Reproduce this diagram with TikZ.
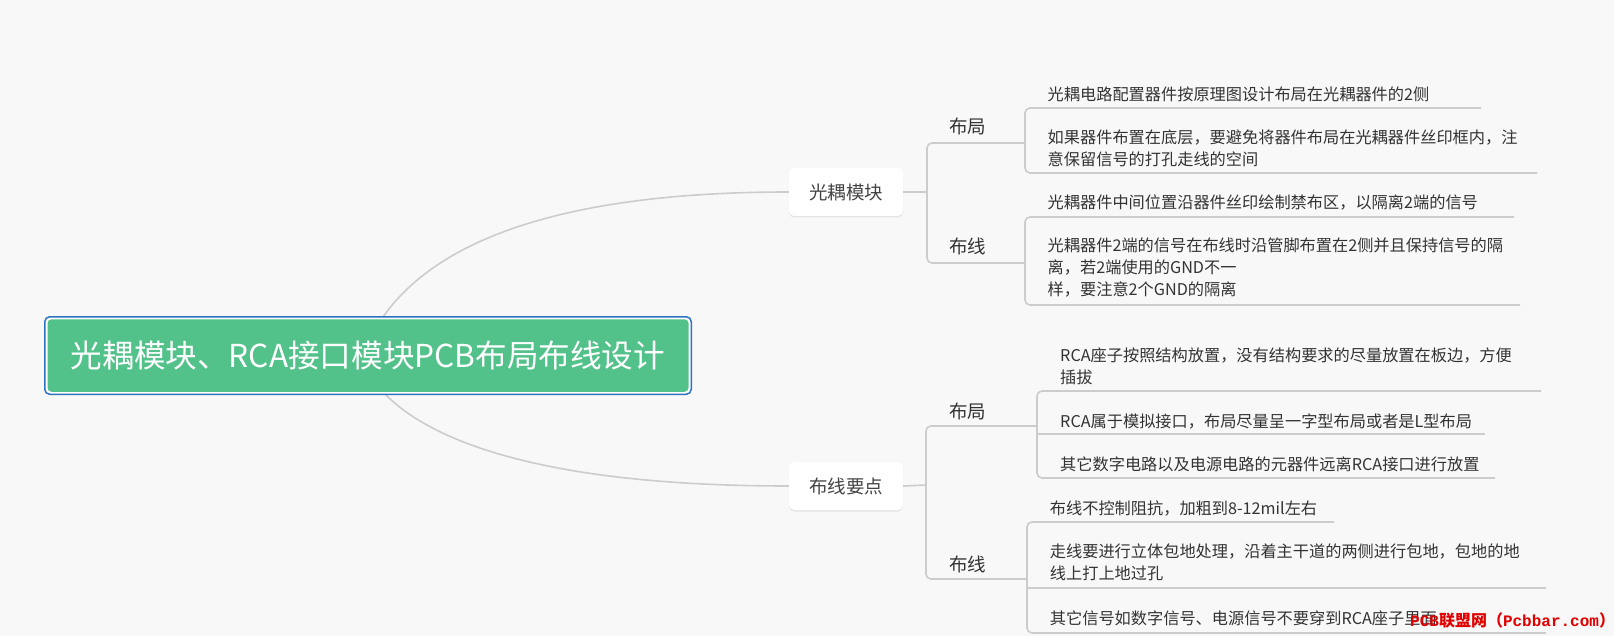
\documentclass[tikz,border=0pt]{standalone}
\usepackage{fontspec}
\newfontfamily\cjk{Noto Sans CJK SC}
\newfontfamily\wmmono{Liberation Mono}
\usetikzlibrary{shadows,backgrounds}
\definecolor{bgc}{HTML}{F8F8F8}
\definecolor{linec}{HTML}{CCCCCC}
\definecolor{txt}{HTML}{333333}
\definecolor{txtb}{HTML}{444444}
\definecolor{rootgreen}{HTML}{52C28A}
\definecolor{rootblue}{HTML}{2B73C0}
\definecolor{wmred}{HTML}{E00000}
\begin{document}
\begin{tikzpicture}[x=1pt,y=-1pt,
  conn/.style={draw=linec, line width=1.6pt},
  lbl/.style={anchor=base west, inner sep=0pt, font=\cjk\fontsize{18.5}{22}\selectfont, text=txt},
  leaf/.style={anchor=base west, inner sep=0pt, font=\cjk\fontsize{16.2}{22}\selectfont, text=txt},
  topic/.style={fill=white, rounded corners=5pt, minimum width=114pt, minimum height=48pt, inner sep=0pt,
    font=\cjk\fontsize{18.5}{22}\selectfont, text=txtb,
    drop shadow={shadow xshift=0pt, shadow yshift=-1.5pt, opacity=0.08, fill=black}}
]
\useasboundingbox (0,0) rectangle (1614,636);

% root
\node[draw=rootblue, line width=1.5pt, fill=white, rounded corners=5pt, minimum width=646.5pt, minimum height=77.5pt, inner sep=0pt] (rootframe) at (368,355.5) {};
\node[fill=rootgreen, rounded corners=4pt, minimum width=641pt, minimum height=72.5pt, inner sep=0pt, text=white, text depth=2pt, font=\cjk\fontsize{31.6}{36}\selectfont] (root) at (368,355.5) {光耦模块、RCA接口模块PCB布局布线设计};

% topics
\node[topic] (t1) at (846,192) {光耦模块};
\node[topic] (t2) at (846,486) {布线要点};

% labels
\node[lbl] (g1) at (949,134) {布局};
\node[lbl] (g2) at (949,254) {布线};
\node[lbl] (g3) at (949,418) {布局};
\node[lbl] (g4) at (949,571) {布线};

% leaves
\node[leaf] (l11) at (1047.5,101) {\parbox[t]{700pt}{光耦电路配置器件按原理图设计布局在光耦器件的2侧}};
\node[leaf] (l12) at (1047.5,144) {\parbox[t]{700pt}{如果器件布置在底层，要避免将器件布局在光耦器件丝印框内，注\\意保留信号的打孔走线的空间}};
\node[leaf] (l21) at (1047.5,209) {\parbox[t]{700pt}{光耦器件中间位置沿器件丝印绘制禁布区，以隔离2端的信号}};
\node[leaf] (l22) at (1047.5,252) {\parbox[t]{700pt}{光耦器件2端的信号在布线时沿管脚布置在2侧并且保持信号的隔\\离，若2端使用的GND不一\\样，要注意2个GND的隔离}};
\node[leaf] (l31) at (1060,361) {\parbox[t]{700pt}{RCA座子按照结构放置，没有结构要求的尽量放置在板边，方便\\插拔}};
\node[leaf] (l32) at (1060,427) {\parbox[t]{700pt}{RCA属于模拟接口，布局尽量呈一字型布局或者是L型布局}};
\node[leaf] (l33) at (1060,470) {\parbox[t]{700pt}{其它数字电路以及电源电路的元器件远离RCA接口进行放置}};
\node[leaf] (l41) at (1049.7,514) {\parbox[t]{700pt}{布线不控制阻抗，加粗到8-12mil左右}};
\node[leaf] (l42) at (1049.7,557) {\parbox[t]{700pt}{走线要进行立体包地处理，沿着主干道的两侧进行包地，包地的地\\线上打上地过孔}};
\node[leaf] (l43) at (1049.7,624) {\parbox[t]{700pt}{其它信号如数字信号、电源信号不要穿到RCA座子里面}};

% watermark
\node[anchor=base west, inner sep=0pt, text=wmred, font=\fontsize{16}{18}\selectfont\bfseries] (wm) at (1410,626)
  {\wmmono PCB\cjk 联盟网（\wmmono Pcbbar.com\cjk ）};

% connector coordinates
\coordinate (r1) at (383,317);
\coordinate (r2) at (385,394);
\coordinate (j1) at (927,192);
\coordinate (j2) at (926,485);
\coordinate (u1) at (1025,143);
\coordinate (u2) at (1025,263);
\coordinate (u3) at (1037,426);
\coordinate (u4) at (1027,579);
\coordinate (e11) at (1481,108);
\coordinate (e12) at (1537,173);
\coordinate (e21) at (1514,217);
\coordinate (e22) at (1520,305);
\coordinate (e31) at (1541,391);
\coordinate (e32) at (1485,434);
\coordinate (e33) at (1495,478);
\coordinate (e41) at (1334,522);
\coordinate (e42) at (1546,588);
\coordinate (e43) at (1546,633);

\begin{scope}[on background layer]
\fill[bgc] (0,0) rectangle (1614,636);
\draw[conn] (r1) .. controls (430,250) and (540,192) .. (t1.west);
\draw[conn] (r2) .. controls (430,440) and (540,486) .. (t2.west);
\end{scope}

% level connectors
\draw[conn] (t1.east) -- (j1);
\draw[conn, rounded corners=5pt] (u1) -- (927,143) -- (927,263) -- (u2);
\draw[conn] (t2.east) -- (j2);
\draw[conn, rounded corners=5pt] (u3) -- (926,426) -- (926,579) -- (u4);

% leaf connectors
\draw[conn, rounded corners=5pt] (e11) -- (1025,108) -- (1025,173) -- (e12);
\draw[conn, rounded corners=5pt] (e21) -- (1025,217) -- (1025,305) -- (e22);
\draw[conn, rounded corners=5pt] (e31) -- (1037,391) -- (1037,478) -- (e33);
\draw[conn] (1037,434) -- (e32);
\draw[conn, rounded corners=5pt] (e41) -- (1027,522) -- (1027,633) -- (e43);
\draw[conn] (1027,588) -- (e42);
\end{tikzpicture}
\end{document}
